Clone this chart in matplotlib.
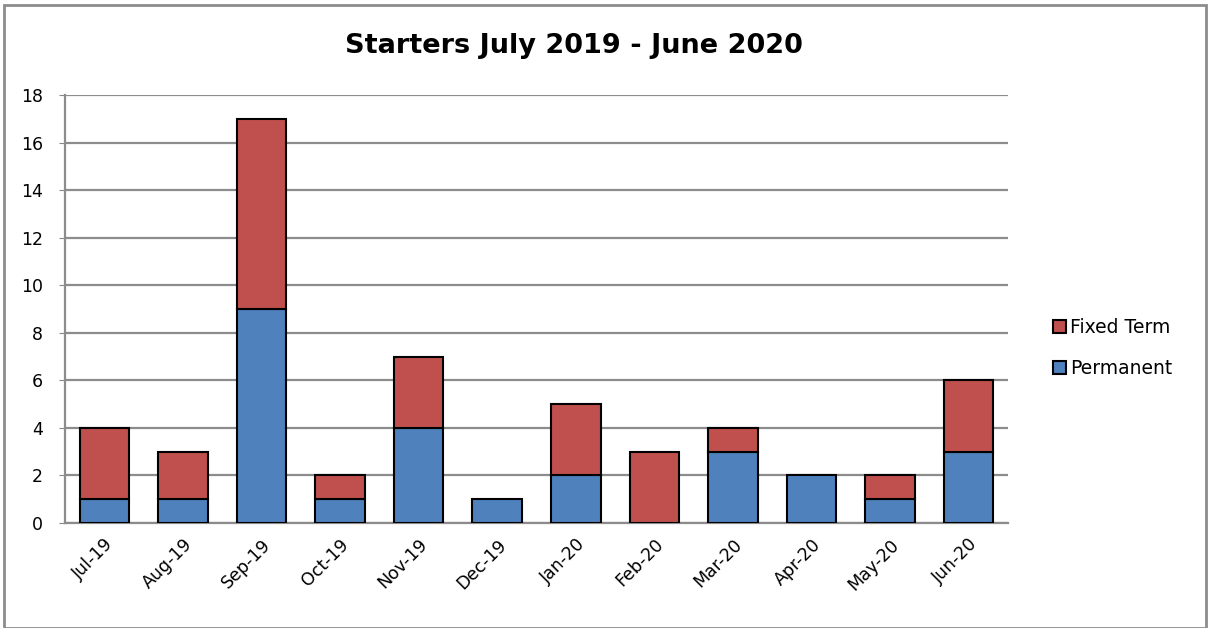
import matplotlib
matplotlib.use("Agg")
import matplotlib.pyplot as plt
from matplotlib.patches import Rectangle, Patch

months = ["Jul-19", "Aug-19", "Sep-19", "Oct-19", "Nov-19", "Dec-19",
          "Jan-20", "Feb-20", "Mar-20", "Apr-20", "May-20", "Jun-20"]
permanent = [1, 1, 9, 1, 4, 1, 2, 0, 3, 2, 1, 3]
fixed_term = [3, 2, 8, 1, 3, 0, 3, 3, 1, 0, 1, 3]
yticks = [0, 2, 4, 6, 8, 10, 12, 14, 16, 18]

blue = "#4f81bd"
red = "#c0504d"

plt.rcParams['font.family'] = ['DejaVu Sans']
fig = plt.figure(figsize=(12.1, 6.28), dpi=100)
ax = fig.add_axes([65/1210, 1-523/628, (1008-65)/1210, (523-95)/628])

x = list(range(len(months)))
w = 0.63
for i in x:
    if permanent[i] > 0:
        ax.bar(i, permanent[i], width=w, color=blue, edgecolor="black", linewidth=1.5, zorder=3)
    if fixed_term[i] > 0:
        ax.bar(i, fixed_term[i], width=w, bottom=permanent[i], color=red, edgecolor="black", linewidth=1.5, zorder=3)

ax.set_xlim(-0.5, len(months) - 0.5)
ax.set_ylim(0, 18)
ax.set_yticks(yticks)
ax.set_yticklabels([str(v) for v in yticks], fontsize=12.5)
ax.set_xticks(x)
ax.set_xticklabels(months, rotation=45, ha="right", rotation_mode="anchor", fontsize=12.5)
ax.tick_params(axis="x", length=0, pad=9)
ax.tick_params(axis="y", length=4, color="#888888", pad=12)
ax.yaxis.grid(True, color="#8c8c8c", linewidth=1.6, zorder=0)
ax.set_axisbelow(True)
for s in ["top", "right"]:
    ax.spines[s].set_visible(False)
for s in ["left", "bottom"]:
    ax.spines[s].set_color("#8c8c8c")
    ax.spines[s].set_linewidth(1.6)

fig.text(574/1210, 1-46/628, "Starters July 2019 - June 2020", ha="center", va="center",
         fontsize=19.5, fontweight="bold")

handles = [Patch(facecolor=red, edgecolor="black", linewidth=1.5, label="Fixed Term"),
           Patch(facecolor=blue, edgecolor="black", linewidth=1.5, label="Permanent")]
fig.legend(handles=handles, loc="center left", bbox_to_anchor=(1036/1210, 1-348/628),
           frameon=False, fontsize=13.5, handlelength=0.7, handleheight=0.7,
           handletextpad=0.2, labelspacing=1.15)

fig.patches.append(Rectangle((4/1210, 0), 1202/1210, 1-5/628, transform=fig.transFigure,
                             fill=False, edgecolor="#8c8c8c", linewidth=2))

fig.savefig("out.png", dpi=100)
